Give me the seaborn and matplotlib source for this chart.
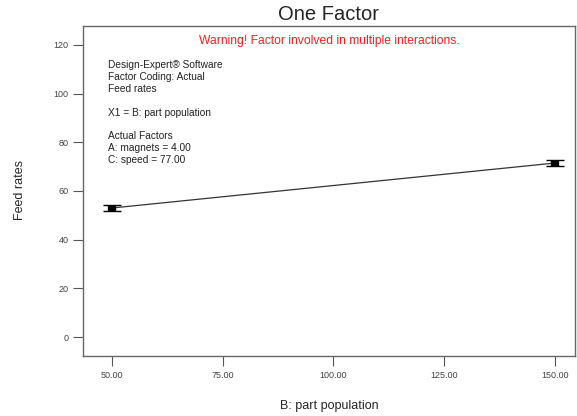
import matplotlib
matplotlib.use("Agg")
import matplotlib.pyplot as plt
import seaborn as sns
import pandas as pd

# Factor B levels and predicted feed rates with their LSD half-widths
part_population = [50.0, 150.0]
feed_rates = [53.0, 71.5]
lsd_half = [1.4, 1.4]

x_ticks = [50.0, 75.0, 100.0, 125.0, 150.0]
y_ticks = [0, 20, 40, 60, 80, 100, 120]

info_lines = [
    "Design-Expert\u00ae Software",
    "Factor Coding: Actual",
    "Feed rates",
    "",
    "X1 = B: part population",
    "",
    "Actual Factors",
    "A: magnets = 4.00",
    "C: speed = 77.00",
]

sns.set_style("ticks")
plt.rcParams["font.family"] = ["Liberation Sans", "DejaVu Sans"]

df = pd.DataFrame({"B: part population": part_population, "Feed rates": feed_rates})

W, H = 577, 416
fig = plt.figure(figsize=(W / 100, H / 100), dpi=100)
ax = fig.add_axes([83 / W, 1 - 356 / H, (575 - 83) / W, (356 - 26) / H])

sns.lineplot(data=df, x="B: part population", y="Feed rates", ax=ax,
             color="#333333", linewidth=0.9, zorder=2)

# LSD bars: thick black body with wider caps
ax.errorbar(part_population, feed_rates, yerr=lsd_half, fmt="none",
            ecolor="black", elinewidth=6, capsize=6.5, capthick=1.0, zorder=3)

ax.set_xlim(43.5, 154.5)
ax.set_ylim(-7.8, 127.8)
ax.set_xticks(x_ticks)
ax.set_xticklabels([f"{v:.2f}" for v in x_ticks])
ax.set_yticks(y_ticks)

ax.tick_params(axis="both", labelsize=6.5, labelcolor="#444444", color="#555555",
               length=7, width=0.8, direction="out")
for s in ax.spines.values():
    s.set_color("#666666")
    s.set_linewidth(1.0)

ax.set_xlabel("")
ax.set_ylabel("")
fig.text(329 / W, 1 - 406 / H, "B: part population", fontsize=9,
         ha="center", va="center")
fig.text(20 / W, 1 - 190 / H, "Feed rates", fontsize=9, rotation=90,
         ha="center", va="center")
fig.text(329 / W, 1 - 14 / H, "One Factor", fontsize=14.5,
         ha="center", va="center")

ax.text(0.5, 0.955, "Warning! Factor involved in multiple interactions.",
        transform=ax.transAxes, ha="center", va="center", color="#ee2222", fontsize=8.7)

for i, line in enumerate(info_lines):
    fig.text(108 / W, 1 - (65 + i * 11.9) / H, line, fontsize=7.3, color="#222222",
             va="center", ha="left")

fig.savefig("out.png", dpi=100)
